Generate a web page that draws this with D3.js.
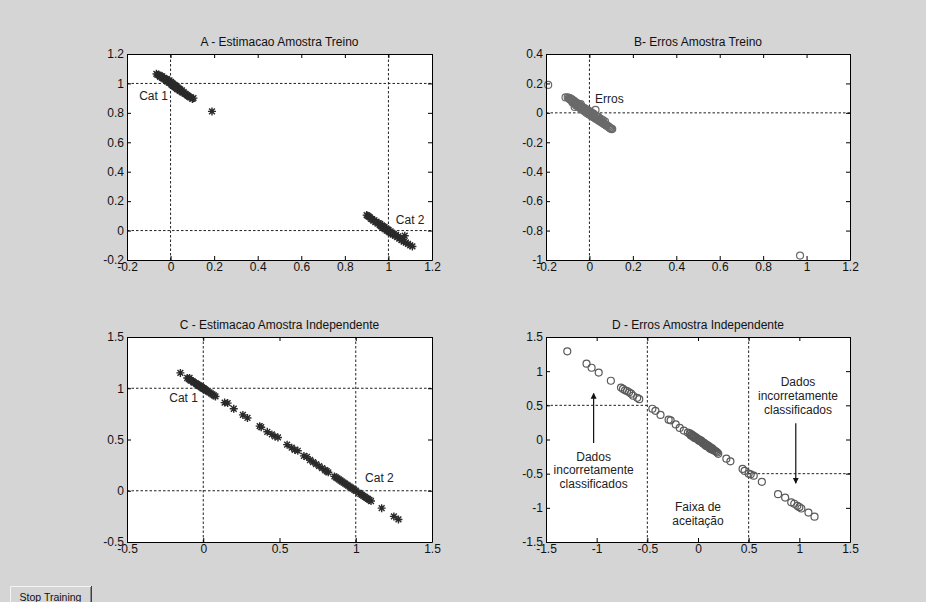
<!DOCTYPE html>
<html><head><meta charset="utf-8">
<script src="https://cdn.jsdelivr.net/npm/d3@7"></script>
<style>
html,body{margin:0;padding:0;background:#d5d5d5;}
svg{display:block;font-family:"Liberation Sans",Arial,sans-serif;}
</style></head>
<body>
<svg id="c" width="926" height="602"></svg>
<script>
// ---------- DATA ----------
const titles = ["A - Estimacao Amostra Treino","B- Erros Amostra Treino","C - Estimacao Amostra Independente","D - Erros Amostra Independente"];
const ticksAX = [-0.2,0,0.2,0.4,0.6,0.8,1,1.2];
const ticksAY = [-0.2,0,0.2,0.4,0.6,0.8,1,1.2];
const ticksBX = [-0.2,0,0.2,0.4,0.6,0.8,1,1.2];
const ticksBY = [-1,-0.8,-0.6,-0.4,-0.2,0,0.2,0.4];
const ticksCX = [-0.5,0,0.5,1,1.5];
const ticksCY = [-0.5,0,0.5,1,1.5];
const ticksDX = [-1.5,-1,-0.5,0,0.5,1,1.5];
const ticksDY = [-1.5,-1,-0.5,0,0.5,1,1.5];

// Panel A: training estimates (stars)
const aCat1 = [[-0.065,1.065],[-0.06,1.058],[-0.055,1.06],[-0.05,1.052],[-0.048,1.045],[-0.045,1.05],[-0.04,1.04],[-0.038,1.048],[-0.035,1.035],[-0.03,1.038],[-0.028,1.028],[-0.025,1.03],[-0.02,1.022],[-0.018,1.03],[-0.015,1.012],[-0.01,1.015],[-0.008,1.005],[-0.005,1.02],[0.0,1.0],[0.002,1.01],[0.005,0.99],[0.008,1.002],[0.01,0.985],[0.012,0.995],[0.015,0.98],[0.018,0.99],[0.02,0.975],[0.022,0.985],[0.025,0.97],[0.028,0.98],[0.03,0.962],[0.033,0.972],[0.036,0.958],[0.04,0.965],[0.042,0.95],[0.045,0.958],[0.05,0.945],[0.052,0.952],[0.055,0.938],[0.06,0.94],[0.065,0.93],[0.07,0.928],[0.075,0.92],[0.08,0.915],[0.085,0.91],[0.09,0.905],[0.1,0.895],[0.105,0.9],[0.19,0.81]];
const aCat2 = [[0.9,0.105],[0.905,0.1],[0.91,0.095],[0.915,0.09],[0.92,0.08],[0.925,0.078],[0.93,0.068],[0.935,0.07],[0.94,0.058],[0.945,0.06],[0.95,0.048],[0.955,0.05],[0.96,0.038],[0.962,0.045],[0.965,0.03],[0.97,0.035],[0.972,0.022],[0.975,0.028],[0.98,0.015],[0.982,0.025],[0.985,0.008],[0.99,0.015],[0.992,0.0],[0.995,0.008],[1.0,-0.005],[1.0,0.005],[1.005,-0.012],[1.01,-0.005],[1.012,-0.02],[1.018,-0.015],[1.02,-0.028],[1.025,-0.022],[1.03,-0.035],[1.035,-0.03],[1.04,-0.045],[1.045,-0.04],[1.05,-0.055],[1.055,-0.05],[1.06,-0.065],[1.065,-0.06],[1.07,-0.075],[1.075,-0.035],[1.08,-0.082],[1.09,-0.09],[1.1,-0.1],[1.11,-0.108]];
// Panel B: training errors (circles)
const bErr = [[-0.19,0.19],[0.97,-0.97],[-0.11,0.105],[-0.1,0.105],[-0.095,0.1],[-0.09,0.09],[-0.085,0.088],[-0.08,0.08],[-0.078,0.07],[-0.075,0.075],[-0.07,0.065],[-0.068,0.04],[-0.065,0.06],[-0.06,0.055],[-0.058,0.065],[-0.055,0.05],[-0.05,0.045],[-0.048,0.055],[-0.045,0.04],[-0.04,0.035],[-0.038,0.045],[-0.035,0.03],[-0.03,0.025],[-0.028,0.035],[-0.025,0.02],[-0.02,0.015],[-0.018,0.028],[-0.015,0.01],[-0.01,0.005],[-0.008,0.018],[-0.005,0.0],[0.0,-0.005],[0.0,0.01],[0.005,-0.01],[0.008,0.005],[0.01,-0.015],[0.015,-0.02],[0.018,-0.005],[0.02,-0.025],[0.025,-0.03],[0.028,0.02],[0.03,-0.035],[0.035,-0.04],[0.038,-0.025],[0.04,-0.045],[0.045,-0.05],[0.05,-0.055],[0.055,-0.06],[0.06,-0.065],[0.065,-0.07],[0.07,-0.075],[0.075,-0.08],[0.08,-0.085],[0.085,-0.09],[0.09,-0.095],[0.1,-0.105],[0.105,-0.11],[-0.04,0.06],[-0.06,0.07],
  [-0.09,0.1],[-0.085,0.095],[-0.08,0.09],[-0.075,0.085],[-0.07,0.08],[-0.065,0.072],[-0.062,0.05],[-0.055,0.062],[-0.052,0.042],[-0.045,0.052],[-0.042,0.03],[-0.035,0.042],[-0.032,0.02],[-0.025,0.032],[-0.022,0.01],[-0.015,0.022],[-0.012,-0.002],[-0.005,0.012],[-0.002,-0.012],[0.005,0.002],[0.008,-0.022],[0.012,-0.005],[0.018,-0.03],[0.022,-0.012],[0.028,-0.04],[0.032,-0.02],[0.038,-0.048],[0.042,-0.03],[0.048,-0.058],[0.052,-0.04],[0.058,-0.068],[0.062,-0.05],[0.068,-0.078],[0.072,-0.06],[0.078,-0.088],[0.09,-0.1],[0.095,-0.105],[0.1,-0.11]];
// Panel C: independent estimates (stars)
const cEst = [[-0.15,1.15],[-0.105,1.1],[-0.095,1.09],[-0.09,1.1],[-0.085,1.08],[-0.08,1.075],[-0.07,1.07],[-0.065,1.06],[-0.06,1.055],[-0.05,1.05],[-0.045,1.04],[-0.04,1.04],[-0.035,1.03],[-0.03,1.03],[-0.025,1.02],[-0.02,1.02],[-0.015,1.01],[-0.01,1.01],[-0.005,1.0],[0.0,1.0],[0.005,0.995],[0.01,0.99],[0.015,0.985],[0.02,0.975],[0.03,0.97],[0.04,0.96],[0.05,0.95],[0.06,0.94],[0.07,0.93],[0.08,0.92],[0.14,0.86],[0.16,0.855],[0.2,0.8],[0.26,0.74],[0.29,0.71],[0.37,0.63],[0.38,0.62],[0.42,0.575],[0.45,0.55],[0.47,0.53],[0.49,0.52],[0.55,0.45],[0.58,0.42],[0.6,0.4],[0.62,0.39],[0.66,0.34],[0.68,0.33],[0.7,0.3],[0.72,0.28],[0.74,0.26],[0.76,0.24],[0.78,0.22],[0.8,0.2],[0.81,0.19],[0.82,0.18],[0.86,0.14],[0.87,0.13],[0.88,0.12],[0.89,0.11],[0.9,0.1],[0.91,0.09],[0.92,0.08],[0.93,0.07],[0.94,0.06],[0.95,0.05],[0.96,0.04],[0.97,0.03],[0.98,0.02],[0.99,0.01],[1.0,0.0],[1.02,-0.02],[1.03,-0.03],[1.04,-0.04],[1.05,-0.05],[1.06,-0.06],[1.07,-0.07],[1.08,-0.08],[1.09,-0.09],[1.1,-0.1],[1.17,-0.17],[1.25,-0.25],[1.28,-0.28]];
// Panel D: independent errors (circles)
const dErr = [[-1.29,1.29],[-1.1,1.11],[-1.05,1.05],[-0.98,0.98],[-0.86,0.86],[-0.76,0.76],[-0.74,0.74],[-0.72,0.72],[-0.7,0.71],[-0.68,0.69],[-0.66,0.67],[-0.64,0.64],[-0.6,0.61],[-0.58,0.59],[-0.45,0.45],[-0.42,0.42],[-0.37,0.36],[-0.29,0.29],[-0.27,0.28],[-0.22,0.22],[-0.18,0.17],[-0.14,0.13],[-0.1,0.1],[-0.08,0.08],[-0.06,0.06],[-0.05,0.05],[-0.04,0.04],[-0.03,0.03],[-0.02,0.02],[-0.01,0.01],[0.0,0.0],[0.01,-0.01],[0.02,-0.02],[0.03,-0.03],[0.03,-0.015],[0.04,-0.04],[0.05,-0.05],[0.06,-0.06],[0.07,-0.07],[0.08,-0.08],[0.08,-0.095],[0.09,-0.09],[0.1,-0.1],[0.11,-0.11],[0.12,-0.12],[0.12,-0.135],[0.13,-0.13],[0.15,-0.15],[0.17,-0.17],[0.19,-0.19],[0.2,-0.21],[0.28,-0.28],[0.32,-0.32],[0.44,-0.43],[0.46,-0.46],[0.5,-0.5],[0.52,-0.51],[0.55,-0.53],[0.63,-0.62],[0.79,-0.8],[0.86,-0.85],[0.92,-0.92],[0.95,-0.94],[0.98,-0.97],[1.0,-0.99],[1.02,-1.01],[1.09,-1.07],[1.15,-1.13],
  [-0.08,0.09],[-0.06,0.07],[-0.04,0.05],[-0.02,0.03],[0.0,0.01],[0.02,-0.01],[0.04,-0.03],[0.06,-0.05],[0.08,-0.07],[0.1,-0.09],[0.12,-0.11],[0.14,-0.13],[-0.07,0.06],[-0.05,0.04],[-0.03,0.02],[0.01,-0.02],[0.05,-0.06],[0.07,-0.08],[0.09,-0.1],[0.11,-0.12],[0.13,-0.14],[0.16,-0.16],[0.18,-0.18],[0.14,-0.15]];

// ---------- DRAW ----------
const svg = d3.select("#c");
svg.append("rect").attr("width",926).attr("height",602).attr("fill","#d5d5d5");
const fmt = v => String(+v.toFixed(2));
const starPath = (r=4,k=2.9) => `M${-r},0H${r}M0,${-r}V${r}M${-k},${-k}L${k},${k}M${-k},${k}L${k},${-k}`;

function panel(o){
  const x = d3.scaleLinear().domain(o.xd).range([o.x0,o.x1]);
  const y = d3.scaleLinear().domain(o.yd).range([o.y1,o.y0]);
  const g = svg.append("g");
  g.append("rect").attr("x",o.x0).attr("y",o.y0).attr("width",o.x1-o.x0).attr("height",o.y1-o.y0).attr("fill","#fff");
  const dash = g.append("g").attr("stroke","#222").attr("stroke-width",1).attr("stroke-dasharray","2.5,2");
  (o.vlines||[]).forEach(v=>dash.append("line").attr("x1",x(v[0])).attr("x2",x(v[0])).attr("y1",y(v[1])).attr("y2",y(v[2])));
  (o.hlines||[]).forEach(h=>dash.append("line").attr("y1",y(h[0])).attr("y2",y(h[0])).attr("x1",x(h[1])).attr("x2",x(h[2])));
  o.series.forEach(s=>{
    if(s.type==="star"){
      g.append("g").selectAll("path").data(s.data).join("path")
        .attr("transform",d=>`translate(${x(d[0])},${y(d[1])})`)
        .attr("d",starPath()).attr("stroke","#2a2a2a").attr("stroke-width",1.4).attr("fill","none");
    } else {
      g.append("g").selectAll("circle").data(s.data).join("circle")
        .attr("cx",d=>x(d[0])).attr("cy",d=>y(d[1])).attr("r",3.5)
        .attr("fill","none").attr("stroke",s.color).attr("stroke-width",1.2);
    }
  });
  const ax = (gen,tr,ticks,lab)=>{
    const a = g.append("g").attr("transform",tr).call(gen.tickValues(ticks).tickSizeInner(-4).tickSizeOuter(0).tickPadding(lab?3:0).tickFormat(lab?fmt:""));
    a.select(".domain").attr("stroke","#000");
    a.selectAll("line").attr("stroke","#000");
    a.selectAll("text").attr("font-size",12).attr("fill","#111").attr("font-family","'Liberation Sans',Arial,sans-serif");
    return a;
  };
  const bx = ax(d3.axisBottom(x),`translate(0,${o.y1})`,o.xt,true);
  bx.selectAll("text").attr("dy","0.66em");
  ax(d3.axisTop(x),`translate(0,${o.y0})`,o.xt,false);
  ax(d3.axisLeft(y),`translate(${o.x0},0)`,o.yt,true);
  ax(d3.axisRight(y),`translate(${o.x1},0)`,o.yt,false);
  svg.append("text").attr("x",(o.x0+o.x1)/2).attr("y",o.y0-8).attr("text-anchor","middle")
    .attr("font-size",12).attr("fill","#111").text(o.title);
  (o.labels||[]).forEach(l=>{
    svg.append("text").attr("x",x(l.x)).attr("y",y(l.y)).attr("text-anchor",l.anchor||"start")
      .attr("font-size",12).attr("fill","#222").text(l.t);
  });
  return {x,y};
}

panel({x0:127,x1:432,y0:54,y1:260,xd:[-0.2,1.2],yd:[-0.2,1.2],xt:ticksAX,yt:ticksAY,title:titles[0],
  vlines:[[0,-0.2,1.2],[1,-0.2,1.2]],hlines:[[0,-0.2,1.2],[1,-0.2,1.2]],
  series:[{type:"star",data:aCat1},{type:"star",data:aCat2}],
  labels:[{t:"Cat 1",x:-0.144,y:0.887},{t:"Cat 2",x:1.034,y:0.042}]});

panel({x0:546,x1:850,y0:54,y1:260,xd:[-0.2,1.2],yd:[-1,0.4],xt:ticksBX,yt:ticksBY,title:titles[1],
  vlines:[[0,-1,0.4]],hlines:[[0,-0.2,1.2]],
  series:[{type:"circle",data:bErr,color:"#6a6a6a"}],
  labels:[{t:"Erros",x:0.026,y:0.069}]});

panel({x0:127,x1:432,y0:337,y1:542,xd:[-0.5,1.5],yd:[-0.5,1.5],xt:ticksCX,yt:ticksCY,title:titles[2],
  vlines:[[0,-0.5,1.5],[1,-0.5,1.5]],hlines:[[0,-0.5,1.5],[1,-0.5,1.5]],
  series:[{type:"star",data:cEst}],
  labels:[{t:"Cat 1",x:-0.223,y:0.869},{t:"Cat 2",x:1.061,y:0.088}]});

const pd = panel({x0:546,x1:850,y0:337,y1:542,xd:[-1.5,1.5],yd:[-1.5,1.5],xt:ticksDX,yt:ticksDY,title:titles[3],
  vlines:[[-0.5,-1.5,1.5],[0.5,-1.5,1.5]],hlines:[[0.5,-1.5,-0.5],[-0.5,0.5,1.5]],
  series:[{type:"circle",data:dErr,color:"#5a5a5a"}],
  labels:[
    {t:"Dados",x:-1.03,y:-0.315,anchor:"middle"},
    {t:"incorretamente",x:-1.03,y:-0.512,anchor:"middle"},
    {t:"classificados",x:-1.03,y:-0.71,anchor:"middle"},
    {t:"Dados",x:0.987,y:0.783,anchor:"middle"},
    {t:"incorretamente",x:0.987,y:0.578,anchor:"middle"},
    {t:"classificados",x:0.987,y:0.38,anchor:"middle"},
    {t:"Faixa de",x:0.0,y:-1.046,anchor:"middle"},
    {t:"aceitação",x:0.0,y:-1.251,anchor:"middle"}
  ]});

const defs = svg.append("defs");
defs.append("marker").attr("id","ah").attr("viewBox","0 0 10 10").attr("refX",9).attr("refY",5)
  .attr("markerWidth",6).attr("markerHeight",9).attr("markerUnits","userSpaceOnUse").attr("orient","auto")
  .append("path").attr("d","M0,0L10,5L0,10Z").attr("fill","#111");
[[-1.03,-0.05,-1.03,0.675],[0.965,0.237,0.965,-0.64]].forEach(a=>{
  svg.append("line").attr("x1",pd.x(a[0])).attr("y1",pd.y(a[1])).attr("x2",pd.x(a[2])).attr("y2",pd.y(a[3]))
    .attr("stroke","#111").attr("stroke-width",1.2).attr("marker-end","url(#ah)");
});

const btn = svg.append("g");
btn.append("rect").attr("x",10).attr("y",586).attr("width",82).attr("height",17).attr("fill","#d5d5d5");
btn.append("path").attr("d","M10.5,602V586.5H91").attr("stroke","#f4f4f4").attr("fill","none");
btn.append("path").attr("d","M91.5,586V602").attr("stroke","#404040").attr("fill","none");
btn.append("path").attr("d","M90.5,587V602").attr("stroke","#8a8a8a").attr("fill","none");
btn.append("text").attr("x",50.5).attr("y",600.5).attr("text-anchor","middle").attr("font-size",10.5).attr("fill","#111").text("Stop Training");
</script>
</body></html>
